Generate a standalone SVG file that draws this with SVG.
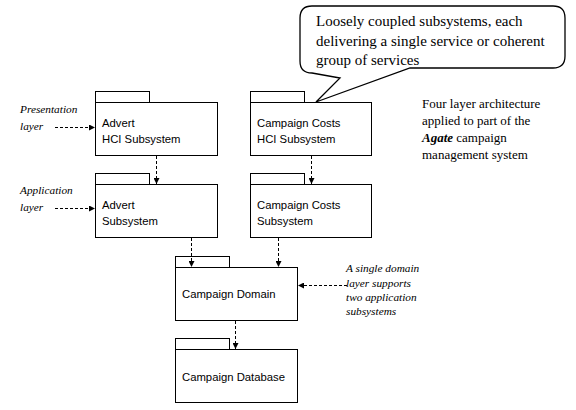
<svg xmlns="http://www.w3.org/2000/svg" width="576" height="410" viewBox="0 0 576 410">
<defs>
<marker id="ah" viewBox="0 0 6 6" refX="6" refY="3" markerWidth="6" markerHeight="6" markerUnits="userSpaceOnUse" orient="auto">
<path d="M0,0 L6,3 L0,6 Z" fill="#000"/>
</marker>
</defs>
<style>
.pk{fill:#fff;stroke:#000;stroke-width:1}
.lb{font-family:"Liberation Sans",Arial,sans-serif;font-size:11.3px;fill:#000}
.it{font-family:"Liberation Serif","Times New Roman",serif;font-size:11.3px;font-style:italic;fill:#000}
.nt{font-family:"Liberation Serif","Times New Roman",serif;font-size:13px;fill:#000}
.co{font-family:"Liberation Serif","Times New Roman",serif;font-size:15px;fill:#000}
.dl{fill:none;stroke:#000;stroke-width:1;stroke-dasharray:3,2;marker-end:url(#ah)}
</style>
<rect width="576" height="410" fill="#fff"/>
<g id="advert-hci">
<rect class="pk" x="95.5" y="91.5" width="54" height="11"/>
<rect class="pk" x="95.5" y="102.5" width="122" height="53"/>
<text class="lb" x="102" y="127">Advert</text>
<text class="lb" x="102" y="143">HCI Subsystem</text>
</g>
<g id="advert-sub">
<rect class="pk" x="95.5" y="173.5" width="54" height="11"/>
<rect class="pk" x="95.5" y="184.5" width="122" height="53"/>
<text class="lb" x="102" y="209">Advert</text>
<text class="lb" x="102" y="225">Subsystem</text>
</g>
<g id="cc-hci">
<rect class="pk" x="250.5" y="91.5" width="54" height="11"/>
<rect class="pk" x="250.5" y="102.5" width="121" height="53"/>
<text class="lb" x="257" y="127">Campaign Costs</text>
<text class="lb" x="257" y="143">HCI Subsystem</text>
</g>
<g id="cc-sub">
<rect class="pk" x="250.5" y="173.5" width="54" height="11"/>
<rect class="pk" x="250.5" y="184.5" width="121" height="53"/>
<text class="lb" x="257" y="209">Campaign Costs</text>
<text class="lb" x="257" y="225">Subsystem</text>
</g>
<g id="domain">
<rect class="pk" x="175.5" y="256.5" width="54" height="11"/>
<rect class="pk" x="175.5" y="267.5" width="122" height="53"/>
<text class="lb" x="182" y="298">Campaign Domain</text>
</g>
<g id="database">
<rect class="pk" x="175.5" y="338.5" width="54" height="11"/>
<rect class="pk" x="175.5" y="349.5" width="122" height="53"/>
<text class="lb" x="182" y="381">Campaign Database</text>
</g>
<g id="callout">
<path d="M312,73 L340,78 L316,102 L410,68 L553,68 Q565,68 565,56 L565,18 Q565,6 553,6 L312,6 Q300,6 300,18 L300,61 Q300,73 312,73 Z" fill="#fff" stroke="#000" stroke-width="1.3"/>
<text class="co" x="316" y="26">Loosely coupled subsystems, each</text>
<text class="co" x="316" y="46">delivering a single service or coherent</text>
<text class="co" x="316" y="65">group of services</text>
</g>
<g id="notes">
<text class="it" x="20" y="113">Presentation</text>
<text class="it" x="20" y="130">layer</text>
<text class="it" x="20" y="194">Application</text>
<text class="it" x="20" y="211">layer</text>
<text class="nt" x="422" y="108">Four layer architecture</text>
<text class="nt" x="422" y="125">applied to part of the</text>
<text class="nt" x="422" y="142"><tspan font-weight="bold" font-style="italic">Agate</tspan> campaign</text>
<text class="nt" x="422" y="159">management system</text>
<text class="it" x="346" y="272">A single domain</text>
<text class="it" x="346" y="287">layer supports</text>
<text class="it" x="346" y="301">two application</text>
<text class="it" x="346" y="315">subsystems</text>
</g>
<g id="connectors">
<path class="dl" d="M156.5,156 V184"/>
<path class="dl" d="M311.5,156 V184"/>
<path class="dl" d="M191.5,238 V267"/>
<path class="dl" d="M278.5,238 V267"/>
<path class="dl" d="M235.5,321 V349"/>
<path class="dl" d="M55,127.5 H95"/>
<path class="dl" d="M55,208.5 H95"/>
<path class="dl" d="M347,285.5 H298"/>
</g>
</svg>
